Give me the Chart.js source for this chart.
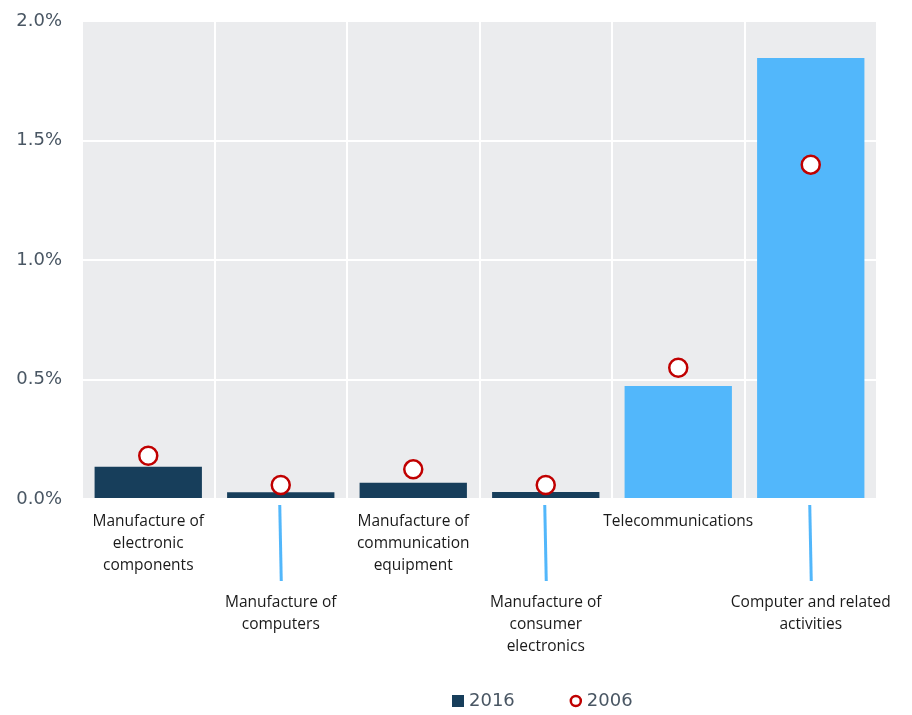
<!DOCTYPE html>
<html lang="en">
<head>
<meta charset="UTF-8">
<title>ICT sectors - share of value added</title>
<style>
    html, body { margin: 0; padding: 0; background: #ffffff; }
    .chart-wrapper { position: relative; width: 912px; height: 715px; }
</style>
<script src="https://cdn.jsdelivr.net/npm/chart.js"></script>
</head>
<body>
<div class="chart-wrapper"><canvas id="ictChart"></canvas></div>
<script>
    // data (values in %)
    const categories = [
        ['Manufacture of', 'electronic', 'components'],
        ['Manufacture of', 'computers'],
        ['Manufacture of', 'communication', 'equipment'],
        ['Manufacture of', 'consumer', 'electronics'],
        ['Telecommunications'],
        ['Computer and related', 'activities']
    ];
    const values2016 = [0.135, 0.028, 0.068, 0.029, 0.473, 1.845];
    const values2006 = [0.181, 0.059, 0.124, 0.059, 0.549, 1.399];
    const yTicks = [0, 0.5, 1.0, 1.5, 2.0];
    const seriesNames = ['2016', '2006'];

    const DARK = '#173e5b';
    const LIGHT = '#52b7fb';
    const RED = '#c00000';
    const TICK_COLOR = '#495663';

    const plotBackground = {
        id: 'plotBackground',
        beforeDraw(chart) {
            const a = chart.chartArea;
            const ctx = chart.ctx;
            ctx.save();
            ctx.fillStyle = '#ebecee';
            ctx.fillRect(a.left, a.top, a.right - a.left, a.bottom - a.top);
            ctx.restore();
        }
    };

    // category labels, every second one pushed down with a leader line
    const staggeredLabels = {
        id: 'staggeredLabels',
        afterDraw(chart) {
            const ctx = chart.ctx;
            const xs = chart.scales.x;
            const bottom = chart.chartArea.bottom;
            ctx.save();
            ctx.font = '15.5px "Open Sans"';
            ctx.fillStyle = '#1a1a1a';
            ctx.textAlign = 'center';
            ctx.textBaseline = 'middle';
            categories.forEach(function(lines, i) {
                const x = xs.getPixelForValue(i);
                const lower = i % 2 === 1;
                const y0 = bottom + (lower ? 104 : 23);
                if (lower) {
                    ctx.strokeStyle = LIGHT;
                    ctx.lineWidth = 3;
                    ctx.beginPath();
                    ctx.moveTo(x - 1, bottom + 6);
                    ctx.lineTo(x + 0.5, bottom + 82);
                    ctx.stroke();
                }
                lines.forEach(function(t, k) {
                    ctx.fillText(t, x, y0 + k * 21.7);
                });
            });
            ctx.restore();
        }
    };

    const bottomLegend = {
        id: 'bottomLegend',
        afterDraw(chart) {
            const ctx = chart.ctx;
            const bars = chart.data.datasets.find(d => d.type !== 'line');
            const dots = chart.data.datasets.find(d => d.type === 'line');
            const y = 701;
            let x = 452;
            ctx.save();
            ctx.font = '18px "DejaVu Sans"';
            ctx.textBaseline = 'middle';
            ctx.textAlign = 'left';
            // 2016: square
            ctx.fillStyle = DARK;
            ctx.fillRect(x, y - 6, 12, 12);
            ctx.fillStyle = TICK_COLOR;
            ctx.fillText(bars.label, x + 17, y);
            x = x + 17 + ctx.measureText(bars.label).width + 55;
            // 2006: hollow circle
            ctx.beginPath();
            ctx.arc(x + 6, y, 5, 0, Math.PI * 2);
            ctx.fillStyle = '#ffffff';
            ctx.fill();
            ctx.lineWidth = 2.5;
            ctx.strokeStyle = RED;
            ctx.stroke();
            ctx.fillStyle = TICK_COLOR;
            ctx.fillText(dots.label, x + 17, y);
            ctx.restore();
        }
    };

    const ctx = document.getElementById('ictChart').getContext('2d');
    new Chart(ctx, {
        type: 'bar',
        data: {
            labels: categories,
            datasets: [
                {
                    type: 'line',
                    label: seriesNames[1],
                    data: values2006,
                    showLine: false,
                    pointStyle: 'circle',
                    pointRadius: 9,
                    pointHoverRadius: 9,
                    pointBorderWidth: 2.5,
                    pointBorderColor: RED,
                    pointBackgroundColor: '#ffffff',
                    order: 0
                },
                {
                    type: 'bar',
                    label: seriesNames[0],
                    data: values2016,
                    backgroundColor: values2016.map((v, i) => i < 4 ? DARK : LIGHT),
                    borderWidth: 0,
                    categoryPercentage: 0.81,
                    barPercentage: 1,
                    order: 1
                }
            ]
        },
        options: {
            responsive: true,
            maintainAspectRatio: false,
            animation: false,
            layout: { padding: { top: 21, right: 35, left: 0, bottom: 0 } },
            plugins: {
                legend: { display: false },
                tooltip: { enabled: false }
            },
            scales: {
                x: {
                    offset: true,
                    grid: { color: '#ffffff', lineWidth: 2, drawTicks: false, offset: true },
                    border: { display: false },
                    ticks: { display: false },
                    afterFit: function(scale) {
                        scale.height = 216;
                        scale.paddingLeft = 0;
                        scale.paddingRight = 0;
                    }
                },
                y: {
                    min: 0,
                    max: 2,
                    grid: { color: '#ffffff', lineWidth: 2, drawTicks: false },
                    border: { display: false },
                    afterBuildTicks: function(scale) {
                        scale.ticks = yTicks.map(v => ({ value: v }));
                    },
                    ticks: {
                        padding: 20,
                        color: TICK_COLOR,
                        font: { family: 'DejaVu Sans', size: 18 },
                        callback: function(value) { return value.toFixed(1) + '%'; }
                    },
                    afterFit: function(scale) {
                        scale.width = 82;
                        scale.paddingTop = 0;
                        scale.paddingBottom = 0;
                    }
                }
            }
        },
        plugins: [plotBackground, staggeredLabels, bottomLegend]
    });
</script>
</body>
</html>
